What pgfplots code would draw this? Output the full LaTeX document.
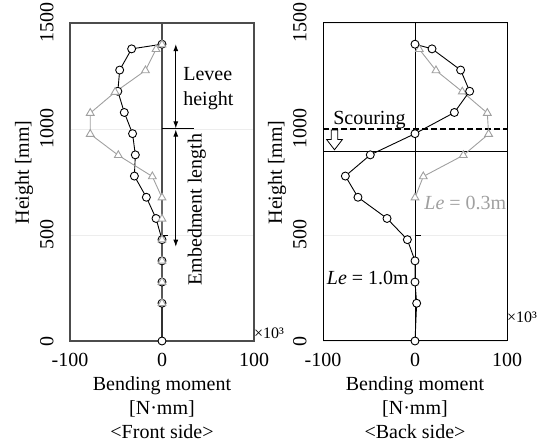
\documentclass[border=0pt]{standalone}
\usepackage{fontspec}
\setmainfont{Liberation Serif}
\usepackage{pgfplots}
\pgfplotsset{compat=1.18}
\usetikzlibrary{arrows.meta}
\newcommand\fs{\fontsize{20bp}{25bp}\selectfont}
\newcommand\fsl{\fontsize{20bp}{24bp}\selectfont}
\newcommand\fss{\fontsize{16bp}{18bp}\selectfont}
\definecolor{lgray}{RGB}{160,160,160}
\pgfplotsset{myax/.style={
  scale only axis, width=184bp, height=318bp,
  xmin=-100, xmax=100, ymin=0, ymax=1500,
  xtick={-100,0,100}, xticklabels={-100,0,100},
  ytick={0,500,1000,1500}, yticklabels={0,500,1000,1500},
  major tick length=0pt,
  ymajorgrids, grid style={black!7, line width=0.8bp},
  tick label style={font=\fs},
  yticklabel style={rotate=90, anchor=south},
  yticklabel shift=13bp, xticklabel shift=9bp,
  ylabel={Height [mm]},
  ylabel style={font=\fs, at={(axis description cs:-0.25,0.53)}, anchor=center},
  xlabel style={font=\fsl, align=center, at={(axis description cs:0.5,-0.10)}, anchor=north},
  clip=false,
  blk/.style={black, line width=0.9bp, mark=*, mark size=4bp, mark options={fill=white, draw=black, line width=0.9bp}},
  gry/.style={lgray, line width=0.9bp, mark=triangle*, mark size=4.5bp, mark options={fill=white, draw=lgray, line width=0.9bp}},
}}
\begin{document}
\begin{tikzpicture}
\useasboundingbox (0,0) rectangle (541bp,444bp);
% ---------------- Front side ----------------
\begin{axis}[myax, at={(70bp,103bp)}, anchor=south west,
  axis line style={black!70, line width=1.2bp},
  xlabel={Bending moment\\{[N·mm]}\\\textless Front side\textgreater}]
\draw[black!70, line width=1.2bp] (axis cs:0,0) -- (axis cs:0,1500);
\draw[black, line width=0.9bp] (axis cs:0,500) -- (axis cs:6,500);
\draw[black, line width=1bp] (axis cs:0,1000) -- (axis cs:35,1000);
\addplot[blk] coordinates {(0,1400) (-33,1378) (-46,1278) (-48,1178) (-41,1078) (-32,978) (-29,878) (-30,778) (-17,678) (-6.5,578) (0,478) (0,378) (0,278) (0,178) (0,0)};
\addplot[gry] coordinates {(0,1398) (-6.5,1376) (-18,1276) (-51,1174) (-78,1075) (-78,976) (-47.5,876) (-10.5,776) (0,676) (0,576) (0,478) (0,378) (0,278) (0,178)};
\draw[{Latex[length=7bp,width=5bp]}-{Latex[length=7bp,width=5bp]}, line width=0.8bp] (axis cs:15,1400) -- (axis cs:15,1003);
\draw[{Latex[length=7bp,width=5bp]}-{Latex[length=7bp,width=5bp]}, line width=0.8bp] (axis cs:15,997) -- (axis cs:15,445);
\node[font=\fs, align=left, anchor=west, inner sep=0pt] at (axis cs:23,1192) {Levee\\height};
\node[font=\fs, rotate=90, anchor=center, inner sep=0pt] at (axis cs:38,620) {Embedment length};
\node[font=\fss, anchor=west, inner sep=0pt] at (axis cs:100,38) {×10³};
\end{axis}
% ---------------- Back side ----------------
\begin{axis}[myax, at={(323bp,103bp)}, anchor=south west,
  axis line style={black, line width=1bp},
  xlabel={Bending moment\\{[N·mm]}\\\textless Back side\textgreater}]
\draw[black, line width=0.8bp] (axis cs:0,0) -- (axis cs:0,1500);
\draw[black, line width=0.9bp] (axis cs:0,500) -- (axis cs:6,500);
\draw[black, line width=1.1bp, dash pattern=on 6bp off 3bp] (axis cs:-100,1000) -- (axis cs:100,1000);
\draw[black, line width=0.9bp] (axis cs:-100,895) -- (axis cs:100,895);
\addplot[gry] coordinates {(4.7,1376) (22.8,1276) (51.4,1176) (78.6,1075) (80,976) (52.5,876) (9,776) (0,676)};
\addplot[blk] coordinates {(0,1400) (18.5,1378) (49.6,1278) (59.4,1178) (42.8,1078) (0,978) (-48.6,878) (-75.7,778) (-62,678) (-30.4,578) (-8.3,478) (0,378) (0,278) (1.8,178) (0,0)};
\node[font=\fs, anchor=base west, inner sep=0pt] at (axis cs:-89,1019) {Scouring};
\draw[black, fill=white, line width=0.8bp] (axis cs:-91,995) -- (axis cs:-84,995) -- (axis cs:-84,950) -- (axis cs:-79,950) -- (axis cs:-87.5,902) -- (axis cs:-96,950) -- (axis cs:-91,950) -- cycle;
\node[font=\fs, text=lgray, anchor=west, inner sep=0pt] at (axis cs:10,650) {\textit{Le} = 0.3m};
\node[font=\fs, anchor=west, inner sep=0pt] at (axis cs:-96,297) {\textit{Le} = 1.0m};
\node[font=\fss, anchor=west, inner sep=0pt] at (axis cs:100,113) {×10³};
\end{axis}
\end{tikzpicture}
\end{document}
